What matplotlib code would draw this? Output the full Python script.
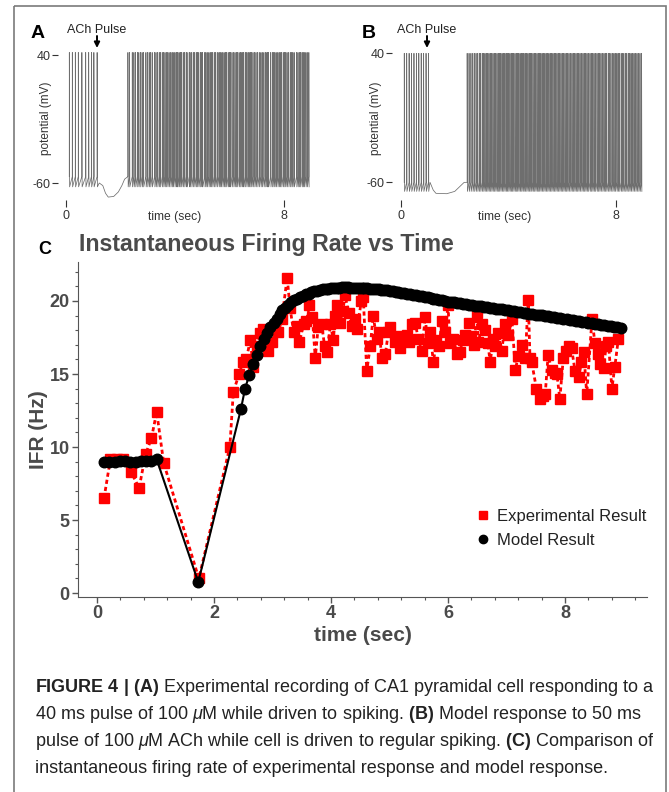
import matplotlib
matplotlib.use("Agg")
import matplotlib.pyplot as plt
from matplotlib.lines import Line2D
from matplotlib.patches import Rectangle
from matplotlib.ticker import MultipleLocator
from matplotlib import font_manager

plt.rcParams['font.family'] = ['Liberation Sans', 'DejaVu Sans']
plt.rcParams['axes.unicode_minus'] = False

# ---- panel C: instantaneous firing rate ----
exp_t = [0.12, 0.23, 0.34, 0.45, 0.58, 0.72, 0.83, 0.93, 1.02, 1.14, 1.74, 2.27,
         2.33, 2.43, 2.49, 2.55, 2.62, 2.67, 2.73, 2.79, 2.84, 2.93, 2.99, 3.05,
         3.10, 3.16, 3.25, 3.30, 3.36, 3.42, 3.46, 3.53, 3.58, 3.63, 3.68, 3.73,
         3.78, 3.84, 3.89, 3.93, 3.99, 4.04, 4.07, 4.10, 4.15, 4.20, 4.24, 4.30,
         4.35, 4.41, 4.44, 4.52, 4.55, 4.61, 4.67, 4.72, 4.78, 4.82, 4.87, 4.93,
         4.98, 5.01, 5.09, 5.13, 5.18, 5.24, 5.29, 5.33, 5.38, 5.44, 5.49, 5.55,
         5.61, 5.65, 5.69, 5.75, 5.80, 5.85, 5.89, 5.95, 6.00, 6.03, 6.09, 6.15,
         6.20, 6.25, 6.29, 6.35, 6.40, 6.45, 6.49, 6.52, 6.58, 6.63, 6.68, 6.72,
         6.77, 6.81, 6.86, 6.92, 6.97, 7.03, 7.09, 7.15, 7.20, 7.26, 7.32, 7.37,
         7.40, 7.43, 7.51, 7.57, 7.62, 7.66, 7.71, 7.77, 7.82, 7.86, 7.91, 7.97,
         8.02, 8.06, 8.11, 8.17, 8.23, 8.28, 8.32, 8.37, 8.46, 8.51, 8.56, 8.60,
         8.66, 8.70, 8.74, 8.80, 8.85, 8.91]
exp_ifr = [6.5, 9.2, 9.2, 9.2, 8.3, 7.2, 9.5, 10.6, 12.4, 8.9, 1.0, 10.0,
           13.8, 15.0, 15.8, 16.0, 17.3, 15.5, 16.9, 17.8, 18.1, 16.6, 17.2, 18.3,
           17.9, 18.8, 21.6, 19.5, 17.9, 18.3, 17.2, 18.4, 18.6, 19.7, 18.9, 16.1,
           18.2, 18.4, 16.9, 16.5, 18.4, 17.3, 19.0, 19.7, 18.5, 19.3, 20.4, 19.2,
           18.3, 18.8, 18.1, 20.0, 20.3, 15.2, 16.9, 19.0, 17.4, 17.9, 16.1, 16.4,
           17.9, 18.2, 17.2, 17.6, 16.8, 17.5, 17.7, 17.2, 18.4, 18.5, 17.4, 16.6,
           18.9, 17.1, 17.9, 15.8, 17.3, 16.9, 18.6, 17.9, 19.7, 17.1, 17.4, 16.4,
           16.5, 17.3, 17.7, 18.5, 17.6, 17.0, 19.2, 17.2, 18.4, 18.0, 17.1, 15.8,
           17.4, 16.9, 17.8, 16.6, 18.4, 17.7, 18.8, 15.3, 16.2, 17.0, 16.1, 20.1,
           16.1, 15.8, 14.0, 13.3, 13.5, 13.6, 16.3, 15.3, 15.1, 15.0, 13.3, 16.1,
           16.6, 16.9, 16.8, 15.2, 14.8, 15.8, 16.5, 13.6, 18.8, 17.1, 16.4, 15.7,
           15.4, 16.9, 17.2, 14.0, 15.5, 17.4]

model_t = [0.12, 0.21, 0.30, 0.39, 0.48, 0.57, 0.66, 0.75, 0.84, 0.93, 1.02, 1.73,
           2.46, 2.53, 2.60, 2.67, 2.73, 2.79, 2.85, 2.91, 2.96, 3.02, 3.07, 3.12,
           3.17, 3.22, 3.27, 3.32, 3.37, 3.42, 3.47, 3.52, 3.57, 3.62, 3.66, 3.71,
           3.76, 3.81, 3.86, 3.91, 3.95, 4.00, 4.05, 4.10, 4.14, 4.19, 4.24, 4.29,
           4.33, 4.38, 4.43, 4.48, 4.53, 4.57, 4.62, 4.67, 4.72, 4.77, 4.82, 4.86,
           4.91, 4.96, 5.01, 5.06, 5.11, 5.15, 5.20, 5.25, 5.30, 5.35, 5.40, 5.45,
           5.50, 5.55, 5.60, 5.65, 5.70, 5.75, 5.80, 5.85, 5.90, 5.95, 6.00, 6.05,
           6.10, 6.15, 6.20, 6.25, 6.31, 6.36, 6.41, 6.46, 6.51, 6.56, 6.61, 6.66,
           6.72, 6.77, 6.82, 6.87, 6.92, 6.97, 7.03, 7.08, 7.13, 7.18, 7.23, 7.29,
           7.34, 7.39, 7.44, 7.50, 7.55, 7.60, 7.65, 7.71, 7.76, 7.81, 7.87, 7.92,
           7.97, 8.03, 8.08, 8.13, 8.19, 8.24, 8.29, 8.35, 8.40, 8.46, 8.51, 8.56,
           8.62, 8.67, 8.73, 8.78, 8.84, 8.89, 8.95]
model_ifr = [9.0, 9.0, 9.0, 9.05, 9.05, 9.0, 8.95, 9.05, 9.05, 9.05, 9.15, 0.75,
             12.6, 14.0, 14.9, 15.7, 16.3, 16.9, 17.4, 17.8, 18.2, 18.5, 18.8, 19.1,
             19.35, 19.55, 19.75, 19.9, 20.05, 20.15, 20.25, 20.35, 20.45, 20.5, 20.6, 20.65,
             20.7, 20.75, 20.8, 20.85, 20.85, 20.9, 20.9, 20.92, 20.92, 20.93, 20.93, 20.93,
             20.92, 20.92, 20.91, 20.9, 20.89, 20.88, 20.86, 20.85, 20.83, 20.81, 20.79, 20.77,
             20.74, 20.72, 20.69, 20.66, 20.63, 20.6, 20.57, 20.54, 20.51, 20.48, 20.44, 20.4,
             20.36, 20.32, 20.28, 20.24, 20.2, 20.16, 20.12, 20.08, 20.04, 20.0, 19.96, 19.93,
             19.9, 19.87, 19.84, 19.81, 19.78, 19.75, 19.72, 19.69, 19.66, 19.63, 19.6, 19.57,
             19.54, 19.51, 19.48, 19.45, 19.42, 19.39, 19.36, 19.33, 19.3, 19.27, 19.24, 19.2,
             19.17, 19.14, 19.11, 19.07, 19.04, 19.01, 18.98, 18.94, 18.91, 18.88, 18.84, 18.81,
             18.78, 18.74, 18.71, 18.68, 18.64, 18.61, 18.58, 18.54, 18.51, 18.47, 18.44, 18.41,
             18.37, 18.34, 18.3, 18.27, 18.23, 18.2, 18.17]

# ---- panels A/B: voltage traces ----
# spikes are the IFR sample times; the rebound sample inside the pause is not a drawn spike
pause = (1.3, 2.0)
a_dip_t = [1.22, 1.35, 1.45, 1.55, 1.75, 1.92, 2.05, 2.15]
a_dip_v = [-60, -62, -68, -71, -70.5, -67, -62, -57]
b_dip_t = [1.08, 1.2, 1.3, 1.7, 2.0, 2.2, 2.35]
b_dip_v = [-60, -66, -68.5, -68.8, -67, -63, -60]

W, H = 669, 792
fig = plt.figure(figsize=(W / 100, H / 100), dpi=100)


def px_axes(l, t, r, b):
    return fig.add_axes([l / W, 1 - b / H, (r - l) / W, (b - t) / H])


def trace(ax, spikes, peak, thr, ahp, dip_t, dip_v):
    pts = []
    for s in spikes:
        if pause[0] < s < pause[1]:
            continue
        pts += [(s, thr), (s + 0.002, peak), (s + 0.012, ahp)]
    pts += list(zip(dip_t, dip_v))
    pts.sort()
    t, v = zip(*pts)
    ax.plot(t, v, color='#6e6e6e', lw=0.55)


def trace_axes(ax, xlim, ylim):
    ax.set_facecolor('none')
    ax.set_xlim(*xlim)
    ax.set_ylim(*ylim)
    for s in ax.spines.values():
        s.set_visible(False)
    ax.set_yticks([-60, 40])
    ax.set_xticks([0, 8])
    ax.tick_params(axis='y', length=4.3, width=0.8, direction='out', pad=1,
                   labelsize=9, colors='#333333')
    ax.tick_params(axis='x', length=5, width=0.8, direction='in', pad=2.5,
                   labelsize=9, colors='#333333')


axa = px_axes(58, 48, 318, 207)
trace(axa, exp_t, 42, -55, -63, a_dip_t, a_dip_v)
trace_axes(axa, (-0.294, 9.248), (-78.75, 45.5))

axb = px_axes(392, 47, 645, 207)
trace(axb, model_t, 40, -60, -67, b_dip_t, b_dip_v)
trace_axes(axb, (-0.335, 9.079), (-79.1, 44.9))

# ---- panel C ----
axc = px_axes(78, 262, 647, 597)
axc.set_facecolor('none')
axc.plot(exp_t, exp_ifr, color='#ff0000', ls=(0, (1.5, 1.1)), lw=2, marker='s',
         ms=6.5, mec='#ff0000', mfc='#ff0000', zorder=2)
axc.plot(model_t, model_ifr, color='black', lw=1.5, marker='o', ms=7.6,
         mec='black', mfc='black', zorder=3)
axc.set_xlim(-0.325, 9.40)
axc.set_ylim(-0.27, 22.67)
axc.spines[['top', 'right']].set_visible(False)
axc.spines[['left', 'bottom']].set_color('#555555')
axc.set_xticks([0, 2, 4, 6, 8])
axc.set_yticks([0, 5, 10, 15, 20])
axc.xaxis.set_minor_locator(MultipleLocator(0.4))
axc.yaxis.set_minor_locator(MultipleLocator(1))
axc.tick_params(which='major', length=4, width=1, color='#555555', labelsize=13,
                labelcolor='#4a4a4a', pad=2)
axc.tick_params(which='minor', length=2.2, width=0.8, color='#555555')
for lab in axc.get_xticklabels() + axc.get_yticklabels():
    lab.set_fontweight('bold')
axc.set_xlabel('time (sec)', fontsize=15, fontweight='bold', color='#4a4a4a')
axc.set_ylabel('IFR (Hz)', fontsize=15, fontweight='bold', color='#4a4a4a')
axc.xaxis.set_label_coords(0.5, -0.087)
axc.yaxis.set_label_coords(-0.053, 0.5)

handles = [Line2D([], [], ls='none', marker='s', color='#ff0000', ms=6),
           Line2D([], [], ls='none', marker='o', color='black', ms=6)]
fig.legend(handles, ['Experimental Result', 'Model Result'], loc='upper left',
           bbox_to_anchor=(461 / W, 1 - 494 / H), frameon=False, fontsize=12,
           handlelength=0.8, handletextpad=0.45, labelspacing=0.55,
           labelcolor='#222222')

# ---- overlay in pixel coordinates: frame, panel letters, labels, caption ----
ov = fig.add_axes([0, 0, 1, 1], zorder=10)
ov.set_xlim(0, W)
ov.set_ylim(H, 0)
ov.axis('off')
ov.patch.set_visible(False)
ov.add_patch(Rectangle((14, 6), 652, 800, fill=False, ec='#7a7a7a', lw=1.2))

for x, lab in [(38, 'A'), (369, 'B')]:
    ov.text(x, 33, lab, fontsize=14, fontweight='bold', ha='center', va='center')
for x in (97, 427):
    ov.text(x, 30, 'ACh Pulse', fontsize=9, ha='center', va='center', color='#222222')
    ov.annotate('', xy=(x, 48), xytext=(x, 36),
                arrowprops=dict(arrowstyle='-|>', color='black', lw=1.4,
                                mutation_scale=8, shrinkA=0, shrinkB=0))
for x in (46, 376):
    ov.text(x, 118, 'potential (mV)', fontsize=8.5, rotation=90, ha='center',
            va='center', color='#333333')
for x in (175, 505):
    ov.text(x, 217, 'time (sec)', fontsize=8.7, ha='center', va='center',
            color='#333333')

ov.text(45, 250, 'C', fontsize=13, fontweight='bold', ha='center', va='center')
ov.text(79, 245, 'Instantaneous Firing Rate vs Time', fontsize=16.7,
        fontweight='bold', ha='left', va='center', color='#4a4a4a')

names = {f.name for f in font_manager.fontManager.ttflist}
cap_font = 'Liberation Sans Narrow' if 'Liberation Sans Narrow' in names else 'Liberation Sans'
plt.rcParams['mathtext.fontset'] = 'custom'
plt.rcParams['mathtext.rm'] = cap_font
plt.rcParams['mathtext.bf'] = cap_font + ':bold'
plt.rcParams['mathtext.it'] = cap_font + ':italic'
caption = [r"$\mathbf{FIGURE\ 4\ |\ (A)}$ Experimental recording of CA1 pyramidal cell responding to a",
           r"40 ms pulse of 100 $\mu$M while driven to spiking. $\mathbf{(B)}$ Model response to 50 ms",
           r"pulse of 100 $\mu$M ACh while cell is driven to regular spiking. $\mathbf{(C)}$ Comparison of",
           "instantaneous firing rate of experimental response and model response."]
for i, line in enumerate(caption):
    ov.text(35, 692 + 27 * i, line, fontsize=13, family=cap_font, ha='left',
            va='baseline', color='#222222')

fig.savefig('out.png', dpi=100)
